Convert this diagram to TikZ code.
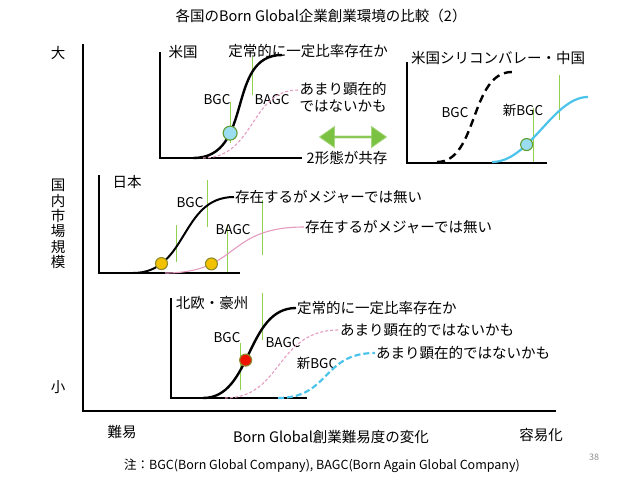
\documentclass[tikz,border=0pt]{standalone}
\usepackage{fontspec}
\setmainfont{Noto Sans CJK JP}
\usetikzlibrary{shapes.arrows}
\definecolor{gline}{HTML}{92D050}
\definecolor{bagcpink}{HTML}{E39BC0}
\definecolor{newblue}{HTML}{4BC3EA}
\definecolor{arrowgreen}{HTML}{7CC242}
\definecolor{arrowedge}{HTML}{A6D77E}
\definecolor{dotblue}{HTML}{9ADCF0}
\definecolor{dotedge}{HTML}{5E9E32}
\definecolor{dotyellow}{HTML}{F2C200}
\definecolor{dotolive}{HTML}{8C8A2A}
\definecolor{dotred}{HTML}{EE1100}
\definecolor{pagegrey}{HTML}{8C8C8C}
\tikzset{
  ax/.style={draw=black, line width=1.2pt},                    % main axes
  pax/.style={draw=black, line width=2.4pt},                   % panel axes
  bgc/.style={draw=black, line width=2.4pt},                   % BGC curve
  bgcd/.style={bgc, dash pattern=on 8pt off 5pt},              % BGC curve, dashed
  bagc/.style={draw=bagcpink, line width=1.1pt},               % BAGC curve
  bagcd/.style={bagc, dash pattern=on 3pt off 2pt},            % BAGC curve, dashed
  nbgc/.style={draw=newblue, line width=2.2pt},                % new BGC curve
  nbgcd/.style={nbgc, dash pattern=on 6pt off 3pt},            % new BGC curve, dashed
  pin/.style={draw=gline, line width=1pt},                     % green marker line
  lab/.style={font=\fontsize{14.5}{17}\selectfont, inner sep=1pt},
  tag/.style={font=\fontsize{13.5}{16}\selectfont, inner sep=1pt},
  dot/.style={circle, inner sep=0pt, minimum size=12pt, line width=1.1pt},
  dblarrow/.style={double arrow, fill=arrowgreen, draw=arrowedge, line width=0.8pt,
                   minimum height=67pt, minimum width=21pt, double arrow head extend=4pt,
                   double arrow tip angle=70, inner sep=0pt},
}

\begin{document}
\begin{tikzpicture}[x=1pt, y=-1pt]
  \useasboundingbox (0,0) rectangle (638,479);
  % title, main axes
  \node[lab] (title) at (321,16) {各国のBorn Global企業創業環境の比較（2）};
  \coordinate (yTop) at (83,44);
  \coordinate (o) at (83,411);
  \coordinate (xEnd) at (556,411);
  \draw[ax] (yTop) -- (o) -- (xEnd);
  \node[lab] (big) at (58,53) {大};
  \node[lab, align=center, font=\fontsize{14.5}{15.4}\selectfont] (ylab) at (58,224) {国\\内\\市\\場\\規\\模};
  \node[lab] (small) at (58,387) {小};
  \node[lab] (hard) at (122,432) {難易};
  \node[lab] (xlab) at (331,437) {Born Global創業難易度の変化};
  \node[lab] (easy) at (541,435) {容易化};
  \node[font=\fontsize{9}{10}\selectfont, text=pagegrey] (page) at (594,457) {38};
  \node[font=\fontsize{12.5}{14}\selectfont] (foot) at (322,466) {注：BGC(Born Global Company), BAGC(Born Again Global Company)};

  % panel axes
  \draw[pax] (160,52) -- (160,158) -- (302,158);
  \draw[pax] (407,62) -- (407,163) -- (547,163);
  \draw[pax] (99,175) -- (99,273) -- (240,273);
  \draw[pax] (171,298) -- (171,398) -- (307,398);

  % green marker lines
  \foreach \x/\ya/\yb in {252/57/95, 230/102/143, 533/108/162, 559/75/120,
                          176/225/262, 207/180/227, 227/225/272, 262/200/255,
                          240/343/390, 262/293/340}
    \draw[pin] (\x,\ya) -- (\x,\yb);

  % 米国
  \node[lab] (usName) at (183,52) {米国};
  \node[lab] (usNote) at (308,51) {定常的に一定比率存在か};
  \node[tag] (usBGC) at (217,100) {BGC};
  \node[tag] (usBAGC) at (272,100) {BAGC};
  \node[lab, align=center] (usRare) at (343,97) {あまり顕在的\\ではないかも};
  \node[dblarrow] (usArrow) at (353,137) {};
  \node[lab] (usBoth) at (347,158) {2形態が共存};
  \draw[bgc] (193,158) .. controls (255,158) and (225,55) .. (282,55)
    node[dot, fill=dotblue, draw=dotedge, minimum size=14pt, pos=0.32] (usDot) {};
  \draw[bagcd] (203,158) .. controls (255,158) and (250,90) .. (298,90);

  % 米国シリコンバレー・中国
  \node[lab] (svName) at (498,58) {米国シリコンバレー・中国};
  \node[tag] (svBGC) at (455,113) {BGC};
  \node[tag] (svNew) at (523,110) {新BGC};
  \draw[bgcd] (437,162) .. controls (478,162) and (470,72) .. (512,72);
  \draw[nbgc] (492,162) .. controls (530,162) and (553,97) .. (588,97)
    node[dot, fill=dotblue, draw=dotedge, pos=0.34] (svDot) {};

  % 日本
  \node[lab] (jpName) at (127,182) {日本};
  \node[tag] (jpBGC) at (190,203) {BGC};
  \node[tag] (jpBAGC) at (233,230) {BAGC};
  \node[lab, anchor=west] (jpNoteA) at (234,197) {存在するがメジャーでは無い};
  \node[lab, anchor=west] (jpNoteB) at (304,227) {存在するがメジャーでは無い};
  \draw[bgc, line width=2pt] (133,273) .. controls (188,273) and (180,197) .. (jpNoteA.west)
    node[dot, fill=dotyellow, draw=dotolive, pos=0.22] (jpDotA) {};
  \draw[bagc] (165,273) .. controls (240,273) and (225,227) .. (jpNoteB.west)
    node[dot, fill=dotyellow, draw=dotolive, pos=0.285] (jpDotB) {};

  % 北欧・豪州
  \node[lab] (noName) at (212,303) {北欧・豪州};
  \node[tag] (noBGC) at (227,338) {BGC};
  \node[tag] (noBAGC) at (283,343) {BAGC};
  \node[tag] (noNew) at (317,363) {新BGC};
  \node[lab, anchor=west] (noNoteA) at (296,308) {定常的に一定比率存在か};
  \node[lab, anchor=west] (noNoteB) at (339,330) {あまり顕在的ではないかも};
  \node[lab, anchor=west] (noNoteC) at (375,353) {あまり顕在的ではないかも};
  \draw[bgc] (203,398) .. controls (252,398) and (246,308) .. (noNoteA.west)
    node[dot, fill=dotred, draw=dotolive, pos=0.447] (noDot) {};
  \draw[bagcd] (225,398) .. controls (283,398) and (275,330) .. (noNoteB.west);
  \draw[nbgcd] (278,398) .. controls (330,398) and (322,353) .. (noNoteC.west);
\end{tikzpicture}
\end{document}
